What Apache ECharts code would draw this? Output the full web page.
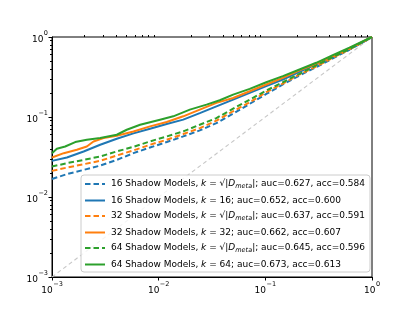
<!DOCTYPE html>
<html><head><meta charset="utf-8">
<script src="https://cdn.jsdelivr.net/npm/echarts@6/dist/echarts.min.js"></script>
<style>html,body{margin:0;padding:0;background:#fff}#c{width:415px;height:311px}</style>
</head><body><div id="c"></div>
<script>
// ---- data ----
const commonFPR = [0.001,0.00138,0.00198,0.00283,0.00405,0.0058,0.0083,0.0119,0.017,0.0243,0.0348,0.0499,0.0714,0.102,0.146,0.209,0.30,0.429,0.614,1];
const blueDashedTPR   = [0.0168,0.0193,0.0218,0.0247,0.0291,0.0353,0.0416,0.0486,0.0572,0.068,0.084,0.110,0.146,0.194,0.255,0.33,0.42,0.54,0.693,1];
const blueSolidTPR    = [0.0283,0.0312,0.0371,0.045,0.0535,0.0624,0.0714,0.0817,0.0927,0.112,0.136,0.165,0.2,0.243,0.294,0.367,0.454,0.561,0.70,1];
const orangeDashedTPR = [0.0212,0.0233,0.0257,0.0283,0.033,0.0382,0.045,0.0519,0.0612,0.0727,0.090,0.118,0.153,0.204,0.262,0.34,0.428,0.55,0.70,1];
const greenDashedTPR  = [0.024,0.0265,0.0291,0.0321,0.0371,0.0424,0.0495,0.0572,0.066,0.080,0.097,0.127,0.165,0.214,0.272,0.347,0.441,0.561,0.707,1];
const orangeSolidFPR = [0.001,0.00129,0.00171,0.00212,0.00245,0.00304,0.00405,0.0058,0.0083,0.0119,0.017,0.0243,0.0348,0.0499,0.0714,0.102,0.146,0.209,0.30,0.429,0.614,1];
const orangeSolidTPR = [0.0312,0.0353,0.0389,0.0428,0.0495,0.0545,0.0583,0.066,0.0763,0.0865,0.102,0.1236,0.15,0.173,0.21,0.255,0.309,0.382,0.463,0.578,0.721,1];
const greenSolidFPR = [0.001,0.00111,0.00133,0.00165,0.00212,0.00283,0.00405,0.00502,0.0067,0.0103,0.0137,0.0196,0.0281,0.0374,0.0499,0.0714,0.102,0.146,0.209,0.30,0.429,0.614,1];
const greenSolidTPR = [0.0353,0.0401,0.0428,0.0486,0.0519,0.0545,0.060,0.0693,0.080,0.0926,0.102,0.1236,0.1428,0.162,0.1907,0.2246,0.272,0.324,0.393,0.476,0.594,0.735,1];
const diagonal = [[0.001,0.001],[1,1]];

const shadowModels = [16,16,32,32,64,64];
const kValues = ['sqrt','16','sqrt','32','sqrt','64'];
const aucValues = ['0.627','0.652','0.637','0.662','0.645','0.673'];
const accValues = ['0.584','0.600','0.591','0.607','0.596','0.613'];
const majorTicks = [0.001,0.01,0.1,1];

// ---- build ----
const colors = ['#1f77b4','#1f77b4','#ff7f0e','#ff7f0e','#2ca02c','#2ca02c'];
const dashed = [true,false,true,false,true,false];
const xs = [commonFPR, commonFPR, commonFPR, orangeSolidFPR, commonFPR, greenSolidFPR];
const ys = [blueDashedTPR, blueSolidTPR, orangeDashedTPR, orangeSolidTPR, greenDashedTPR, greenSolidTPR];

const names = shadowModels.map((m,i)=>m+' Shadow Models, k = '+(kValues[i]==='sqrt'?'√|D_meta|':kValues[i])+'; auc='+aucValues[i]+', acc='+accValues[i]);
const richNames = {};
names.forEach((n,i)=>{
  const kPart = kValues[i]==='sqrt' ? '{it|k} = √|{it|D}{sub|meta}|' : '{it|k} = '+kValues[i];
  richNames[n] = shadowModels[i]+' Shadow Models, '+kPart+'; auc='+aucValues[i]+', acc='+accValues[i];
});

const minorTicks = [];
for (let d=-3; d<0; d++) for (let k=2;k<=9;k++) minorTicks.push(+(k*Math.pow(10,d)).toPrecision(3));

const font = 'DejaVu Sans';
function supLabel(v){
  const e = Math.round(Math.log10(v));
  return '{b|10}{s|'+(e<0?'−'+(-e):e)+'}';
}
const labelRich = {
  b:{fontSize:9, fontFamily:font, color:'#000', lineHeight:14, verticalAlign:'bottom'},
  s:{fontSize:6.5, fontFamily:font, color:'#000', lineHeight:14, verticalAlign:'top', padding:[0,0,0,0.5]}
};

const series = names.map((n,i)=>({
  name:n, type:'line', symbol:'none', z: 3+i,
  data: xs[i].map((x,j)=>[x, ys[i][j]]),
  lineStyle:{color:colors[i], width:2, type: dashed[i]?[5.5,3]:'solid'},
  itemStyle:{color:colors[i]}
}));
series.unshift({
  name:'diag', type:'line', symbol:'none', data: diagonal, z:2, silent:true,
  lineStyle:{color:'#c8c8c8', width:1.1, type:[4,3]}
});

const axisCommon = {
  type:'log', logBase:10, min:0.001, max:1,
  splitLine:{show:false},
  axisLine:{show:true, lineStyle:{color:'#000', width:1}}
};

const chart = echarts.init(document.getElementById('c'), null, {renderer:'canvas'});
chart.setOption({
  animation:false,
  backgroundColor:'#fff',
  grid:{left:52, right:43, top:37, bottom:34, show:true, borderColor:'#000', borderWidth:1},
  xAxis:[
    Object.assign({}, axisCommon, {
      axisTick:{show:true, length:3.5, lineStyle:{color:'#000'}, customValues: majorTicks},
      axisLabel:{show:true, margin:4, formatter: supLabel, rich: labelRich, customValues: majorTicks}
    }),
    Object.assign({}, axisCommon, {
      axisLine:{show:false},
      axisTick:{show:true, length:2, lineStyle:{color:'#000'}, customValues: minorTicks},
      axisLabel:{show:false}
    })
  ],
  yAxis:[
    Object.assign({}, axisCommon, {
      axisTick:{show:true, length:3.5, lineStyle:{color:'#000'}, customValues: majorTicks},
      axisLabel:{show:true, margin:4, formatter: supLabel, rich: labelRich, customValues: majorTicks}
    }),
    Object.assign({}, axisCommon, {
      position:'left',
      axisLine:{show:false},
      axisTick:{show:true, length:2, lineStyle:{color:'#000'}, customValues: minorTicks},
      axisLabel:{show:false}
    })
  ],
  legend:{
    data: names,
    orient:'vertical', left:81, top:175,
    itemWidth:20, itemHeight:9, itemGap:6,
    padding:[4,5,3,3],
    borderColor:'#cccccc', borderWidth:1, borderRadius:3,
    backgroundColor:'rgba(255,255,255,0.8)',
    itemStyle:{color:'rgba(0,0,0,0)', borderWidth:0, opacity:0},
    textStyle:{fontFamily:font, fontSize:9, color:'#000', padding:[0,0,0,1],
      rich:{
        it:{fontFamily:font, fontSize:9, fontStyle:'italic', color:'#000'},
        sub:{fontFamily:font, fontSize:6.5, fontStyle:'italic', color:'#000', verticalAlign:'bottom', lineHeight:12, padding:[4,0,0,0]}
      }},
    formatter: n => richNames[n]
  },
  series: series
});
</script></body></html>
